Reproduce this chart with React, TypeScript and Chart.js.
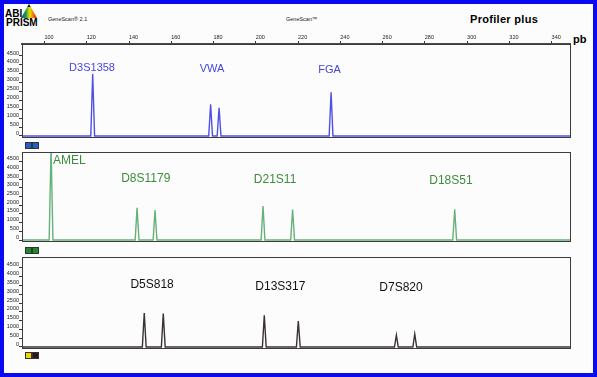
import React, { useEffect, useRef } from "react";
import { Chart, registerables } from "chart.js";
Chart.register(...registerables);

// ---- axis ticks ----
const X_TICKS = [100, 120, 140, 160, 180, 200, 220, 240, 260, 280, 300, 320, 340];
const Y_TICKS = [0, 500, 1000, 1500, 2000, 2500, 3000, 3500, 4000, 4500];
const X_MIN = 89.35;
const X_MAX = 348.66;

// ---- blue dye (panel 1) ----
const BLUE_PEAK_BP = [122.8, 178.6, 182.6, 235.6];
const BLUE_PEAK_RFU = [3490, 1780, 1590, 2460];
const BLUE_LOCI = ["D3S1358", "VWA", "FGA"];
const BLUE_LOCI_BP = [122.5, 179.3, 234.9];
const BLUE_LOCI_RFU = [3825, 3770, 3712];

// ---- green dye (panel 2) ----
const GREEN_PEAK_BP = [103.1, 143.8, 152.3, 203.4, 217.4, 294.1];
const GREEN_PEAK_RFU = [5300, 1850, 1720, 1950, 1750, 1760];
const GREEN_LOCI = ["AMEL", "D8S1179", "D21S11", "D18S51"];
const GREEN_LOCI_BP = [111.8, 147.9, 209.1, 292.3];
const GREEN_LOCI_RFU = [4535, 3500, 3484, 3404];

// ---- yellow/black dye (panel 3) ----
const BLACK_PEAK_BP = [147.2, 156.2, 204.0, 220.1, 266.5, 275.2];
const BLACK_PEAK_RFU = [1940, 1900, 1800, 1480, 670, 740];
const BLACK_LOCI = ["D5S818", "D13S317", "D7S820"];
const BLACK_LOCI_BP = [150.9, 211.6, 268.7];
const BLACK_LOCI_RFU = [3534, 3437, 3403];

const PEAK_HALF_WIDTH = 0.9;

type Panel = {
  bp: number[];
  rfu: number[];
  loci: string[];
  lociBp: number[];
  lociRfu: number[];
  line: string;
  text: string;
  fontSize: number;
  padTop: number;
  padBottom: number;
  yMax: number;
  showX: boolean;
};

const PANELS: Panel[] = [
  { bp: BLUE_PEAK_BP, rfu: BLUE_PEAK_RFU, loci: BLUE_LOCI, lociBp: BLUE_LOCI_BP, lociRfu: BLUE_LOCI_RFU,
    line: "#5050e2", text: "#4646dc", fontSize: 11, padTop: 0, padBottom: 240, yMax: 5175, showX: true },
  { bp: GREEN_PEAK_BP, rfu: GREEN_PEAK_RFU, loci: GREEN_LOCI, lociBp: GREEN_LOCI_BP, lociRfu: GREEN_LOCI_RFU,
    line: "#66b07a", text: "#3d8c3d", fontSize: 12, padTop: 152, padBottom: 136, yMax: 5050, showX: false },
  { bp: BLACK_PEAK_BP, rfu: BLACK_PEAK_RFU, loci: BLACK_LOCI, lociBp: BLACK_LOCI_BP, lociRfu: BLACK_LOCI_RFU,
    line: "#3b3232", text: "#111111", fontSize: 12, padTop: 257, padBottom: 29, yMax: 5125, showX: false },
];

function buildTrace(bp: number[], rfu: number[]) {
  const pts: { x: number; y: number }[] = [{ x: X_MIN, y: 0 }];
  bp.forEach((p, i) => {
    pts.push({ x: p - PEAK_HALF_WIDTH, y: 0 });
    pts.push({ x: p, y: rfu[i] });
    pts.push({ x: p + PEAK_HALF_WIDTH, y: 0 });
  });
  pts.push({ x: X_MAX, y: 0 });
  return pts;
}

const framePlugin = {
  id: "frame",
  afterDraw(chart: any) {
    const { ctx, chartArea } = chart;
    ctx.save();
    ctx.strokeStyle = "#3c3c3c";
    ctx.lineWidth = 1;
    ctx.strokeRect(
      Math.round(chartArea.left) + 0.5,
      Math.round(chartArea.top) + 0.5,
      Math.round(chartArea.right - chartArea.left),
      Math.round(chartArea.bottom - chartArea.top)
    );
    ctx.restore();
  },
};

function lociPlugin(panel: Panel) {
  return {
    id: "loci",
    afterDatasetsDraw(chart: any) {
      const { ctx, scales } = chart;
      ctx.save();
      ctx.fillStyle = panel.text;
      ctx.font = `${panel.fontSize}px "Liberation Sans", Arial, sans-serif`;
      ctx.textAlign = "center";
      ctx.textBaseline = "middle";
      panel.loci.forEach((name, i) => {
        const x = scales.x.getPixelForValue(panel.lociBp[i]);
        const y = scales.y.getPixelForValue(panel.lociRfu[i]);
        ctx.fillText(name, x, y);
      });
      ctx.restore();
    },
  };
}

function makeConfig(panel: Panel): any {
  return {
    type: "line",
    data: {
      datasets: [
        {
          data: buildTrace(panel.bp, panel.rfu),
          borderColor: panel.line,
          borderWidth: 1.4,
          pointRadius: 0,
          tension: 0,
          fill: false,
        },
      ],
    },
    options: {
      animation: false,
      responsive: false,
      events: [],
      layout: { padding: { top: panel.padTop, bottom: panel.padBottom, left: 0, right: 27 } },
      plugins: { legend: { display: false }, tooltip: { enabled: false } },
      scales: {
        x: {
          type: "linear",
          position: "top",
          display: panel.showX,
          min: X_MIN,
          max: X_MAX,
          afterBuildTicks: (s: any) => {
            s.ticks = X_TICKS.map((v) => ({ value: v }));
          },
          afterFit: (s: any) => {
            s.height = panel.showX ? 44 : 0;
          },
          grid: { drawOnChartArea: false, drawTicks: true, tickLength: 3, color: "#333" },
          border: { display: true, width: 2, color: "#4a4a4a" },
          ticks: {
            font: { size: 5.5, family: "Liberation Sans" },
            color: "#222",
            padding: 0,
            labelOffset: 4.5,
            maxRotation: 0,
            autoSkip: false,
            callback: (v: any) => String(v),
          },
        },
        y: {
          min: -57,
          max: panel.yMax,
          afterBuildTicks: (s: any) => {
            s.ticks = Y_TICKS.map((v) => ({ value: v }));
          },
          afterFit: (s: any) => {
            s.width = 22;
          },
          grid: { drawOnChartArea: false, drawTicks: true, tickLength: 3, color: "#333" },
          border: { display: false },
          ticks: {
            font: { size: 5.5, family: "Liberation Sans" },
            color: "#222",
            padding: 0,
            labelOffset: -3,
            autoSkip: false,
            callback: (v: any) => String(v),
          },
        },
      },
    },
    plugins: [framePlugin, lociPlugin(panel)],
  };
}

const SQUARES = [
  { top: 142, colors: ["#1f5fc8", "#1f5fc8"] },
  { top: 247, colors: ["#1e8a2a", "#1e8a2a"] },
  { top: 352, colors: ["#f2d200", "#2a1616"] },
];

export default function App() {
  const r0 = useRef<HTMLCanvasElement>(null);
  const r1 = useRef<HTMLCanvasElement>(null);
  const r2 = useRef<HTMLCanvasElement>(null);

  useEffect(() => {
    const refs = [r0, r1, r2];
    const charts = PANELS.map((p, i) => new Chart(refs[i].current as HTMLCanvasElement, makeConfig(p)));
    return () => charts.forEach((c) => c.destroy());
  }, []);

  const canvasStyle: React.CSSProperties = { position: "absolute", left: 0, top: 0, width: 597, height: 377 };
  const txt = (s: React.CSSProperties): React.CSSProperties => ({
    position: "absolute",
    whiteSpace: "nowrap",
    fontFamily: '"Liberation Sans", Arial, sans-serif',
    lineHeight: 1,
    color: "#1a1a1a",
    ...s,
  });

  return (
    <div style={{ position: "absolute", left: 0, top: 0, width: 597, height: 377, background: "#fcfcfd" }}>
      <div
        style={{
          position: "absolute",
          left: 0,
          top: 0,
          width: 597,
          height: 377,
          boxSizing: "border-box",
          border: "4px solid #0a0af2",
        }}
      />
      {/* logo */}
      <div
        style={{
          position: "absolute",
          left: 21,
          top: 4,
          width: 16,
          height: 14,
          clipPath: "polygon(50% 0, 100% 100%, 0 100%)",
          background:
            "linear-gradient(to bottom, #111 0%, #111 25%, transparent 25%), linear-gradient(to right, #1a3cc8 0%, #1aa040 30%, #f0e000 55%, #f08000 75%, #e01010 100%)",
        }}
      />
      <div style={txt({ left: 5, top: 9, fontSize: 10, fontWeight: 700, color: "#000" })}>ABI</div>
      <div style={txt({ left: 6, top: 18, fontSize: 10, fontWeight: 700, color: "#000" })}>PRISM</div>
      <div style={txt({ left: 48, top: 17, fontSize: 5.5 })}>GeneScan® 2.1</div>
      <div style={txt({ left: 286, top: 17, fontSize: 5.5 })}>GeneScan™</div>
      <div style={txt({ left: 470, top: 14, fontSize: 11, fontWeight: 700, color: "#000", letterSpacing: 0.3 })}>
        Profiler plus
      </div>
      <div style={txt({ left: 573, top: 34, fontSize: 11, fontWeight: 700, color: "#000" })}>pb</div>
      {SQUARES.map((sq, i) =>
        sq.colors.map((c, j) => (
          <div
            key={`${i}-${j}`}
            style={{
              position: "absolute",
              left: 25 + j * 7,
              top: sq.top,
              width: 5,
              height: 5,
              background: c,
              border: "1px solid #333",
            }}
          />
        ))
      )}
      <canvas ref={r0} width={597} height={377} style={canvasStyle} />
      <canvas ref={r1} width={597} height={377} style={canvasStyle} />
      <canvas ref={r2} width={597} height={377} style={canvasStyle} />
    </div>
  );
}
